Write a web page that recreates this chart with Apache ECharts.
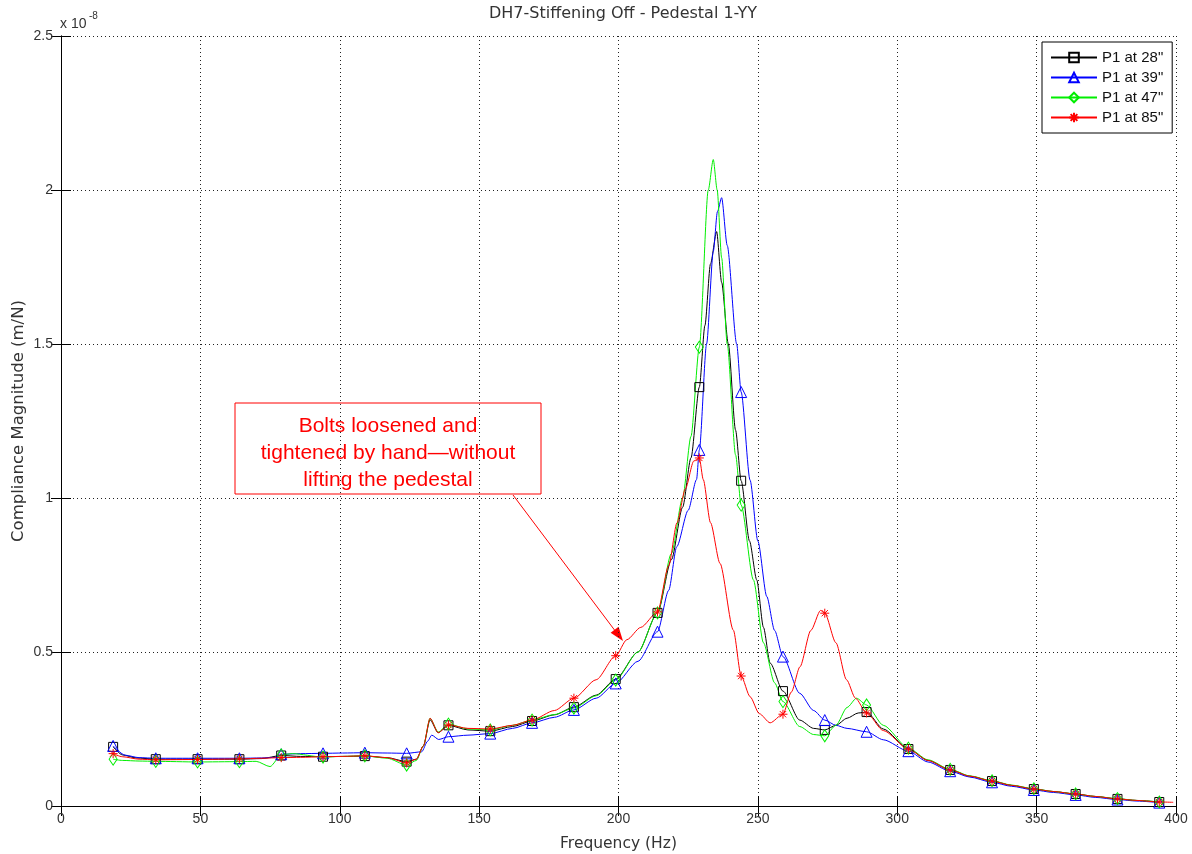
<!DOCTYPE html>
<html>
<head>
<meta charset="utf-8">
<script src="https://cdn.jsdelivr.net/npm/echarts@6/dist/echarts.min.js"></script>
<style>
  html, body { margin: 0; padding: 0; background: #fff; }
  #main { width: 1192px; height: 854px; }
</style>
</head>
<body>
<div id="main"></div>
<script>
// values, y in units of 1e-8 m/N
var markerFreqs = [18.7, 34, 49, 64, 79, 94, 109, 124, 139, 154, 169, 184, 199, 214,
    229, 244, 259, 274, 289, 304, 319, 334, 349, 364, 379, 394];

var p28 = [[18.7,0.192],[22,0.166],[27,0.156],[34,0.152],[49,0.152],[64,0.152],[72,0.154],[79,0.164],[86,0.161],
    [94,0.160],[101,0.161],[109,0.162],[117,0.157],[124,0.144],[127.5,0.152],[130,0.195],[132.4,0.28],[135.3,0.238],
    [139,0.262],[146,0.247],[154,0.243],[162,0.258],[169,0.276],[177,0.296],[184,0.321],[192,0.36],[199,0.412],
    [207,0.5],[214,0.627],[219,0.8],[223,0.97],[226,1.13],[229,1.36],[231,1.56],[233,1.76],[235.2,1.865],[237,1.7],
    [239.4,1.5],[242,1.22],[244,1.056],[247,0.86],[249.6,0.734],[252,0.58],[254.4,0.464],[259,0.373],[265,0.279],
    [270,0.252],[274,0.247],[278,0.262],[282,0.285],[286,0.302],[289,0.305],[295,0.25],[304,0.185],[311,0.148],
    [319,0.117],[326,0.097],[334,0.081],[341,0.067],[349,0.055],[356,0.047],[364,0.039],[371,0.031],[379,0.023],
    [386,0.018],[394,0.013]];

var p39 = [[18.7,0.195],[23,0.165],[28,0.157],[34,0.155],[49,0.155],[64,0.155],[72,0.156],[77,0.158],[79,0.168],
    [86,0.17],[94,0.171],[101,0.172],[109,0.173],[117,0.172],[124,0.171],[129.4,0.176],[131.5,0.21],[133,0.23],
    [135.5,0.216],[139,0.225],[146,0.23],[154,0.235],[162,0.252],[169,0.27],[177,0.288],[184,0.312],[192,0.35],
    [199,0.398],[207,0.47],[214,0.566],[218,0.7],[220.9,0.842],[225,0.96],[228,1.06],[229,1.156],[231.6,1.5],
    [234,1.8],[235.5,1.93],[237,1.975],[239,1.82],[242.4,1.5],[244,1.344],[247.2,1.058],[250,0.86],[253.2,0.68],
    [256,0.57],[259,0.485],[265,0.366],[270,0.31],[274,0.279],[278,0.262],[282,0.252],[289,0.241],[295,0.215],
    [304,0.178],[311,0.143],[319,0.113],[326,0.094],[334,0.077],[341,0.064],[349,0.052],[356,0.044],[364,0.036],
    [371,0.028],[379,0.021],[386,0.016],[394,0.011]];

var p47 = [[18.7,0.152],[22,0.148],[28,0.146],[34,0.145],[49,0.143],[64,0.144],[70,0.145],[75,0.128],[79,0.166],
    [83,0.17],[94,0.159],[101,0.161],[109,0.163],[117,0.155],[124,0.133],[127.5,0.148],[130,0.195],[132.4,0.285],
    [135.3,0.24],[139,0.266],[146,0.25],[154,0.247],[162,0.262],[169,0.279],[177,0.297],[184,0.318],[192,0.358],
    [199,0.409],[207,0.5],[214,0.627],[219,0.82],[223,1.0],[226,1.2],[229,1.49],[232.2,2.0],[234,2.099],[235.4,2.0],
    [237,1.78],[239,1.5],[242,1.14],[244,0.977],[248.4,0.734],[252,0.53],[256,0.4],[259,0.339],[265,0.258],
    [270,0.232],[274,0.228],[278,0.262],[282,0.32],[285.4,0.35],[289,0.328],[295,0.262],[304,0.188],[311,0.15],
    [319,0.119],[326,0.098],[334,0.082],[341,0.068],[349,0.056],[356,0.047],[364,0.039],[371,0.031],[379,0.024],
    [386,0.018],[394,0.013]];

var p85 = [[18.7,0.17],[22,0.16],[28,0.152],[34,0.15],[49,0.151],[64,0.153],[72,0.155],[79,0.157],[86,0.158],
    [94,0.16],[101,0.161],[109,0.163],[117,0.157],[124,0.14],[127.5,0.152],[130,0.195],[132.4,0.285],[135.3,0.238],
    [139,0.263],[146,0.252],[154,0.25],[162,0.262],[169,0.279],[177,0.31],[184,0.35],[192,0.41],[199,0.488],
    [203,0.54],[208,0.58],[214,0.63],[218,0.78],[221,0.92],[224,1.03],[227,1.12],[229,1.13],[230.4,1.06],[233,0.92],
    [236.4,0.788],[241.2,0.571],[244,0.422],[247.2,0.355],[250.5,0.3],[254.4,0.27],[259,0.298],[262,0.37],
    [265.1,0.452],[269,0.57],[272.5,0.635],[274,0.626],[278,0.53],[281.8,0.41],[285,0.35],[289,0.302],[295,0.245],
    [304,0.185],[311,0.148],[319,0.117],[326,0.097],[334,0.081],[341,0.067],[349,0.055],[356,0.047],[364,0.039],
    [371,0.031],[379,0.023],[386,0.018],[394,0.013],[399,0.012]];

var seriesNames = ['P1 at 28"', 'P1 at 39"', 'P1 at 47"', 'P1 at 85"'];
var xTicks = [0, 400, 50];
var yTicks = [0, 2.5, 0.5];

var starPath = 'path://M5 0L5 10M0 5L10 5M1.5 1.5L8.5 8.5M8.5 1.5L1.5 8.5';

function withMarkers(pts) {
    // only every 15 Hz point carries a marker
    return pts.map(function (p) {
        if (markerFreqs.indexOf(p[0]) >= 0) return {value: p};
        return {value: p, symbol: 'none'};
    });
}

function makeSeries(name, pts, color, symbol, size) {
    return {
        name: name,
        type: 'line',
        data: withMarkers(pts),
        smooth: 0.25,
        smoothMonotone: 'x',
        showAllSymbol: true,
        symbol: symbol,
        symbolSize: size,
        lineStyle: {color: color, width: 1},
        itemStyle: {color: 'rgba(0,0,0,0)', borderColor: color, borderWidth: 1},
        emphasis: {disabled: true}
    };
}

var myChart = echarts.init(document.getElementById('main'));
var font = 'Liberation Sans, Arial, sans-serif';
var wide = 'DejaVu Sans, Verdana, sans-serif';
var dotted = {show: true, lineStyle: {color: '#222', type: [1, 3], width: 1}};

myChart.setOption({
    animation: false,
    title: {
        text: 'DH7-Stiffening Off - Pedestal 1-YY',
        left: 618, top: 1, textAlign: 'center',
        textStyle: {fontFamily: wide, fontSize: 16, fontWeight: 'normal', color: '#333'}
    },
    legend: {
        orient: 'vertical',
        left: 1042, top: 42,
        padding: [8, 9, 8, 8],
        itemGap: 5,
        itemWidth: 46, itemHeight: 12,
        backgroundColor: '#fff',
        borderColor: '#000', borderWidth: 1,
        textStyle: {fontFamily: font, fontSize: 15, color: '#111'},
        data: seriesNames
    },
    grid: {left: 61, right: 16, top: 36, bottom: 48, outerBoundsMode: 'none'},
    xAxis: [
        {
            type: 'value', min: xTicks[0], max: xTicks[1], interval: xTicks[2],
            name: 'Frequency (Hz)', nameLocation: 'middle', nameGap: 30,
            nameTextStyle: {fontFamily: wide, fontSize: 15.5, color: '#333'},
            axisLine: {lineStyle: {color: '#000'}},
            axisTick: {inside: true, length: 10, lineStyle: {color: '#000'}},
            axisLabel: {fontFamily: font, fontSize: 14, color: '#333', margin: 6},
            splitLine: dotted
        },
        {
            type: 'value', position: 'top', min: xTicks[0], max: xTicks[1], interval: xTicks[2],
            axisLine: {show: true, lineStyle: {color: '#000'}},
            axisTick: {inside: true, length: 10, lineStyle: {color: '#000'}},
            axisLabel: {show: false}, splitLine: {show: false}
        }
    ],
    yAxis: [
        {
            type: 'value', min: yTicks[0], max: yTicks[1], interval: yTicks[2],
            name: 'Compliance Magnitude (m/N)', nameLocation: 'middle', nameGap: 34,
            nameMoveOverlap: false,
            nameTextStyle: {fontFamily: wide, fontSize: 16.5, color: '#333'},
            axisLine: {show: true, lineStyle: {color: '#000'}},
            axisTick: {show: true, inside: true, length: 10, lineStyle: {color: '#000'}},
            axisLabel: {fontFamily: font, fontSize: 14, color: '#333', margin: 8,
                formatter: function (v) { return String(v); }},
            splitLine: dotted
        },
        {
            type: 'value', position: 'right', min: yTicks[0], max: yTicks[1], interval: yTicks[2],
            axisLine: {show: true, lineStyle: {color: '#000'}},
            axisTick: {show: true, inside: true, length: 10, lineStyle: {color: '#000'}},
            axisLabel: {show: false}, splitLine: {show: false}
        }
    ],
    series: [
        makeSeries(seriesNames[0], p28, '#000000', 'rect', 9),
        makeSeries(seriesNames[1], p39, '#0000ff', 'triangle', 11),
        makeSeries(seriesNames[2], p47, '#00ee00', 'diamond', [8, 12]),
        makeSeries(seriesNames[3], p85, '#ff0000', starPath, 9)
    ],
    graphic: [
        {type: 'text', left: 60, top: 17, style: {text: 'x 10', font: '14px ' + font, fill: '#333'}},
        {type: 'text', left: 89, top: 11, style: {text: '-8', font: '10px ' + font, fill: '#333'}},
        {
            type: 'group',
            children: [
                {type: 'rect', shape: {x: 235, y: 403, width: 306, height: 91},
                    style: {fill: '#fff', stroke: '#ff0000', lineWidth: 1}},
                {type: 'text', x: 388, y: 453,
                    style: {text: 'Bolts loosened and\ntightened by hand\u2014without\nlifting the pedestal',
                        font: '21px ' + font, fill: '#ff0000', align: 'center', verticalAlign: 'middle',
                        lineHeight: 27}},
                {type: 'line', shape: {x1: 513, y1: 495, x2: 616, y2: 632},
                    style: {stroke: '#ff0000', lineWidth: 1}},
                {type: 'polygon', shape: {points: [[623, 641], [610.6, 632.8], [618.6, 626.8]]},
                    style: {fill: '#ff0000'}}
            ]
        }
    ]
});
</script>
</body>
</html>
